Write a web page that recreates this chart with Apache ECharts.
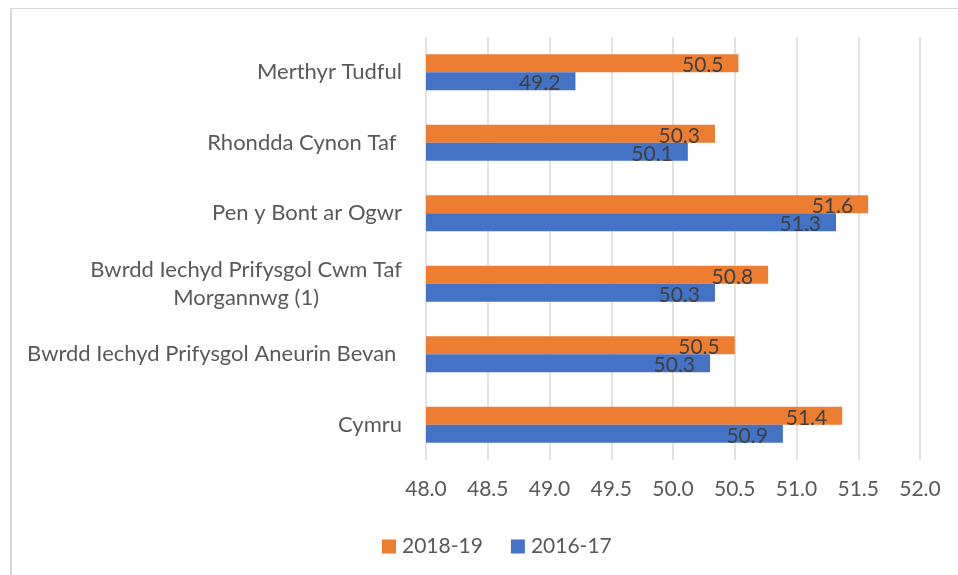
<!DOCTYPE html>
<html>
<head>
<meta charset="utf-8">
<script src="https://cdn.jsdelivr.net/npm/echarts@6/dist/echarts.min.js"></script>
<style>
  html, body { margin: 0; padding: 0; background: #fff; }
  .frame {
    position: absolute; left: 10px; top: 8px; width: 960px; height: 580px;
    border-left: 2px solid #d9d9d9; border-top: 1px solid #d9d9d9;
  }
  #main { position: absolute; left: 0; top: 0; width: 958px; height: 575px; }
</style>
</head>
<body>
<div class="frame"></div>
<div id="main"></div>
<script>
// top to bottom as in the picture
const categories = [
  'Merthyr Tudful',
  'Rhondda Cynon Taf ',
  'Pen y Bont ar Ogwr',
  'Bwrdd Iechyd Prifysgol Cwm Taf\nMorgannwg (1)',
  'Bwrdd Iechyd Prifysgol Aneurin Bevan ',
  'Cymru'
]
const values1819 = [50.53, 50.34, 51.58, 50.77, 50.50, 51.37]
const values1617 = [49.21, 50.12, 51.32, 50.34, 50.30, 50.89]
const xTicks = { min: 48, max: 52, step: 0.5 }

const font = 'Lato'
const myChart = echarts.init(document.getElementById('main'))

const barLabel = {
  show: true,
  position: 'insideRight',
  distance: 15,
  offset: [0, 2],
  color: '#404040',
  fontFamily: font,
  fontSize: 21,
  formatter: p => p.value.toFixed(1)
}

const option = {
  animation: false,
  textStyle: { fontFamily: font },
  legend: {
    bottom: 13,
    left: 377,
    itemWidth: 14,
    itemHeight: 14,
    itemGap: 28,
    icon: 'rect',
    textStyle: { color: '#595959', fontSize: 21, fontFamily: font, padding: [0, 0, 0, 1] },
    data: ['2018-19', '2016-17']
  },
  grid: {
    left: 426,
    right: 38,
    top: 37,
    bottom: 115
  },
  xAxis: {
    type: 'value',
    min: xTicks.min,
    max: xTicks.max,
    interval: xTicks.step,
    axisLine: { show: false },
    axisTick: { show: false },
    splitLine: { lineStyle: { color: '#d9d9d9', width: 1.5 } },
    axisLabel: {
      color: '#595959',
      fontSize: 21,
      fontFamily: font,
      margin: 19,
      formatter: v => v.toFixed(1)
    }
  },
  yAxis: {
    type: 'category',
    inverse: true,
    data: categories,
    axisLine: { show: false },
    axisTick: { show: false },
    axisLabel: {
      color: '#595959',
      fontSize: 22,
      fontFamily: font,
      margin: 24,
      formatter: v => v.split('\n').map(s => '{c|' + s + '}').join('\n'),
      rich: {
        c: { align: 'center', color: '#595959', fontSize: 22, fontFamily: font, lineHeight: 28 }
      }
    }
  },
  series: [
    {
      name: '2018-19',
      type: 'bar',
      barWidth: 18,
      barGap: '0%',
      itemStyle: { color: '#ED7D31' },
      label: barLabel,
      data: values1819
    },
    {
      name: '2016-17',
      type: 'bar',
      barWidth: 18,
      barGap: '0%',
      itemStyle: { color: '#4472C4' },
      label: barLabel,
      data: values1617
    }
  ]
}
option && myChart.setOption(option)
</script>
</body>
</html>
